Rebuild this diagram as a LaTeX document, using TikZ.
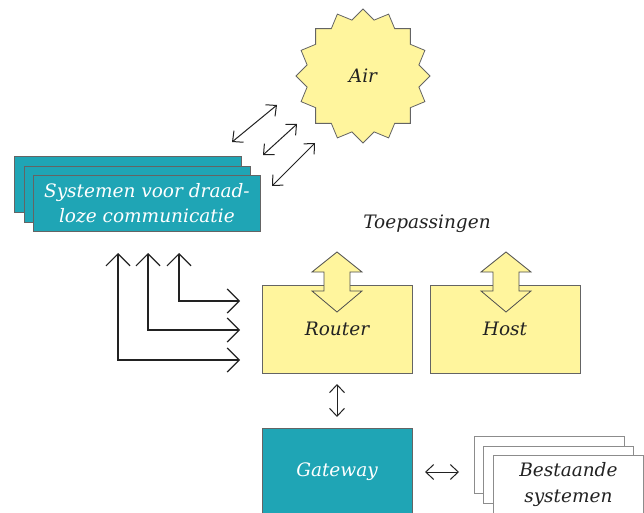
\documentclass[tikz,border=0pt]{standalone}
\usepackage{fontspec}
\setmainfont{DejaVu Serif}
\usetikzlibrary{arrows.meta}
\definecolor{tealc}{HTML}{1FA5B5}
\definecolor{paleyellow}{HTML}{FFF59D}
\definecolor{ink}{HTML}{222222}
\tikzset{
  x=1pt, y=-1pt,
  txt/.style={font=\itshape\fontsize{18.5}{25.5}\selectfont, text=ink, align=center},
  wtxt/.style={txt, text=white},
  tealbox/.style={fill=tealc, draw=ink!70, line width=0.8pt},
  ybox/.style={fill=paleyellow, draw=ink!70, line width=0.8pt},
  gbox/.style={fill=white, draw=black!45, line width=0.8pt},
  conn/.style={draw=ink, line width=1.2pt, {Straight Barb[length=12pt,width=24pt,line width=1.2pt]}-{Straight Barb[length=12pt,width=24pt,line width=1.2pt]}},
  link/.style={draw=ink, line width=1pt, {Straight Barb[length=8pt,width=15pt]}-{Straight Barb[length=8pt,width=15pt]}},
  fat/.style={fill=paleyellow, draw=ink!80, line width=0.8pt, line join=miter},
}
\begin{document}
\begin{tikzpicture}
\useasboundingbox (0,0) rectangle (644,513);

% sixteen-pointed star labelled Air
\fill[paleyellow, draw=ink!70, line width=0.8pt]
  (363,9)
  \foreach \i in {0,...,15} {
    -- ({363+57*cos(90+(\i+0.5)*22.5)}, {76-57*sin(90+(\i+0.5)*22.5)})
    -- ({363+67*cos(90+(\i+1)*22.5)}, {76-67*sin(90+(\i+1)*22.5)})
  } -- cycle;
\node[txt] (air) at (363,76) {Air};

% stacked wireless systems
\draw[tealbox] (14,156) rectangle (241,212);
\draw[tealbox] (24,166) rectangle (250,222);
\node[tealbox, minimum width=227pt, minimum height=56pt, inner sep=0pt, anchor=north west] (wl) at (33,175) {};
\node[wtxt] at (wl.center) {Systemen voor draad-\\loze communicatie};

% radio links
\coordinate (r1a) at (232,142); \coordinate (r1b) at (277,105);
\coordinate (r2a) at (263,155); \coordinate (r2b) at (297,124);
\coordinate (r3a) at (272,186); \coordinate (r3b) at (315,143);
\draw[link] (r1a) -- (r1b);
\draw[link] (r2a) -- (r2b);
\draw[link] (r3a) -- (r3b);

% applications label
\node[txt] (apps) at (427,224) {Toepassingen};

% router and host
\node[ybox, minimum width=150pt, minimum height=88pt, inner sep=0pt, anchor=north west] (router) at (262,285) {};
\node[ybox, minimum width=150pt, minimum height=88pt, inner sep=0pt, anchor=north west] (host) at (430,285) {};
\node[txt] at (337,329) {Router};
\node[txt] at (505,329) {Host};

% broad two-way arrows into router and host
\foreach \cx in {337,506} {
  \draw[fat] (\cx,252) -- (\cx+25,272) -- (\cx+13,272) -- (\cx+13,291) -- (\cx+25,291)
    -- (\cx,312) -- (\cx-25,291) -- (\cx-13,291) -- (\cx-13,272) -- (\cx-25,272) -- cycle;
}

% links between wireless systems and router
\coordinate (u1) at (179,253); \coordinate (e1) at (240,301);
\coordinate (u2) at (148,253); \coordinate (e2) at (240,330);
\coordinate (u3) at (118,253); \coordinate (e3) at (240,360);
\draw[conn] (u1) |- (e1);
\draw[conn] (u2) |- (e2);
\draw[conn] (u3) |- (e3);

% gateway
\node[tealbox, minimum width=150pt, minimum height=90pt, inner sep=0pt, anchor=north west] (gw) at (262,428) {};
\node[wtxt] at (337,472) {Gateway};
\coordinate (ra) at (337,384); \coordinate (rb) at (337,417);
\draw[link] (ra) -- (rb);

% existing systems
\draw[gbox] (474,436) rectangle (624,493);
\draw[gbox] (483,446) rectangle (633,503);
\node[gbox, minimum width=150pt, minimum height=58pt, inner sep=0pt, anchor=north west] (old) at (493,455) {};
\node[txt] at (old.center) {Bestaande\\systemen};
\coordinate (ga) at (425,472); \coordinate (gb) at (459,472);
\draw[link] (ga) -- (gb);
\end{tikzpicture}
\end{document}
